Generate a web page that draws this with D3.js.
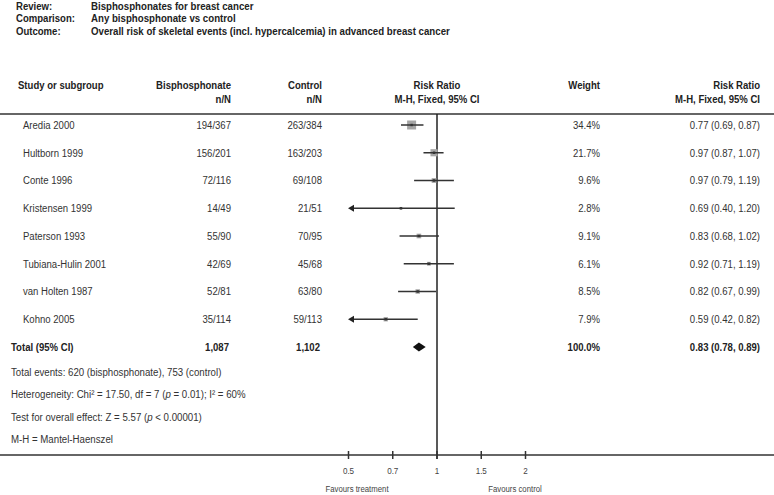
<!DOCTYPE html>
<html><head><meta charset="utf-8">
<script src="https://cdn.jsdelivr.net/npm/d3@7"></script>
<style>
html,body{margin:0;padding:0;background:#fff;}
svg{display:block;font-family:"Liberation Sans",Arial,sans-serif;}
</style></head>
<body><svg id="c" width="774" height="495"></svg>
<script>
const titleLabels = ["Review:", "Comparison:", "Outcome:"];
const titleValues = ["Bisphosphonates for breast cancer", "Any bisphosphonate vs control",
  "Overall risk of skeletal events (incl. hypercalcemia) in advanced breast cancer"];
const studies = ["Aredia 2000","Hultborn 1999","Conte 1996","Kristensen 1999","Paterson 1993","Tubiana-Hulin 2001","van Holten 1987","Kohno 2005"];
const bisEvents = [194,156,72,14,55,42,52,35];
const bisTotal = [367,201,116,49,90,69,81,114];
const ctlEvents = [263,163,69,21,70,45,63,59];
const ctlTotal = [384,203,108,51,95,68,80,113];
const weights = [34.4,21.7,9.6,2.8,9.1,6.1,8.5,7.9];
const rr = [0.77,0.97,0.97,0.69,0.83,0.92,0.82,0.59];
const rrLo = [0.69,0.87,0.79,0.40,0.68,0.71,0.67,0.42];
const rrHi = [0.87,1.07,1.19,1.20,1.02,1.19,0.99,0.82];
const totalBis = "1,087", totalCtl = "1,102", totalWeight = 100.0;
const totalRR = [0.83, 0.78, 0.89];
const tickLabels = ["0.5","0.7","1","1.5","2"];
const footnotes = ["Total events: 620 (bisphosphonate), 753 (control)", "HET", "TEST", "M-H = Mantel-Haenszel"];

const svg = d3.select("#c");
const W = 774;
const txt = "#333", dark = "#222";

// condense text horizontally (reference uses a narrow face) via transform about its anchor x
function narrow(sel, f) {
  sel.each(function(){
    const xx = +this.getAttribute("x") || 0;
    d3.select(this).attr("transform", `translate(${xx},0) scale(${f},1) translate(${-xx},0)`);
  });
  return sel;
}

// title block
titleLabels.forEach((t,i)=>{
  narrow(svg.append("text").attr("x",16).attr("y",10+12.4*i).attr("font-size",11).attr("font-weight","bold").attr("fill",dark).text(t), 0.87);
  narrow(svg.append("text").attr("x",91).attr("y",10+12.4*i).attr("font-size",11).attr("font-weight","bold").attr("fill",dark).text(titleValues[i]), 0.88);
});

// header
const hdr = (x,y,t,anchor)=>narrow(svg.append("text").attr("x",x).attr("y",y).attr("font-size",11).attr("font-weight","bold").attr("fill",dark).attr("text-anchor",anchor).text(t), 0.87);
hdr(18,89,"Study or subgroup","start");
hdr(231,89,"Bisphosphonate","end"); hdr(231,103,"n/N","end");
hdr(322,89,"Control","end"); hdr(322,103,"n/N","end");
hdr(437,89,"Risk Ratio","middle"); hdr(437,103,"M-H, Fixed, 95% CI","middle");
hdr(600,89,"Weight","end");
hdr(760,89,"Risk Ratio","end"); hdr(760,103,"M-H, Fixed, 95% CI","end");

svg.append("line").attr("x1",0).attr("x2",W).attr("y1",114).attr("y2",114).attr("stroke","#333").attr("stroke-width",1.6);
svg.append("line").attr("x1",0).attr("x2",W).attr("y1",455).attr("y2",455).attr("stroke","#333").attr("stroke-width",1.6);

// scales
const x = d3.scaleLog().domain([0.4, 2.5]).range([348, 526]);
const clipMin = 0.43;
const rowY = d3.scaleLinear().domain([0, 1]).range([125, 152.75]);
const sizeS = d3.scaleSqrt().domain([0, 34.4]).range([0, 9]);
const fmt = v => v.toFixed(2);

// vertical line of no effect
svg.append("line").attr("x1",x(1)).attr("x2",x(1)).attr("y1",114).attr("y2",459).attr("stroke",dark).attr("stroke-width",1.5);

studies.forEach((s,i)=>{
  const y = rowY(i);
  const t = (xx,str,anchor)=>narrow(svg.append("text").attr("x",xx).attr("y",y+4).attr("font-size",11).attr("fill",txt).attr("text-anchor",anchor).text(str), 0.87);
  t(23,s,"start");
  t(231,bisEvents[i]+"/"+bisTotal[i],"end");
  t(322,ctlEvents[i]+"/"+ctlTotal[i],"end");
  t(600,weights[i].toFixed(1)+"%","end");
  t(760,`${fmt(rr[i])} (${fmt(rrLo[i])}, ${fmt(rrHi[i])})`,"end");
  const clipped = rrLo[i] < clipMin;
  const xl = clipped ? x(0.4) : x(rrLo[i]);
  const sz = sizeS(weights[i]);
  svg.append("rect").attr("x",x(rr[i])-sz/2).attr("y",y-sz/2).attr("width",sz).attr("height",sz).attr("fill","#a5a5a5");
  svg.append("line").attr("x1",clipped?xl+4:xl).attr("x2",x(rrHi[i])).attr("y1",y).attr("y2",y).attr("stroke","#333").attr("stroke-width",1.5);
  svg.append("rect").attr("x",x(rr[i])-1.2).attr("y",y-1.2).attr("width",2.4).attr("height",2.4).attr("fill","#333");
  if (clipped) {
    svg.append("path").attr("d",`M${xl},${y} L${xl+6},${y-3.5} L${xl+6},${y+3.5} Z`).attr("fill","#222");
  }
});

// total row
const yT = rowY(studies.length);
const tb = (xx,str,anchor)=>narrow(svg.append("text").attr("x",xx).attr("y",yT+4).attr("font-size",11).attr("font-weight","bold").attr("fill",dark).attr("text-anchor",anchor).text(str), 0.87);
tb(11,"Total (95% CI)","start");
tb(229,totalBis,"end");
tb(320,totalCtl,"end");
tb(600,totalWeight.toFixed(1)+"%","end");
tb(760,`${fmt(totalRR[0])} (${fmt(totalRR[1])}, ${fmt(totalRR[2])})`,"end");
svg.append("path").attr("d",`M${x(totalRR[1])},${yT} L${x(totalRR[0])},${yT-4.5} L${x(totalRR[2])},${yT} L${x(totalRR[0])},${yT+4.5} Z`).attr("fill","#111");

// footnotes
const fy = [376, 398, 421, 443];
const fn = (i)=>svg.append("text").attr("x",11).attr("y",fy[i]).attr("font-size",11).attr("fill",txt);
narrow(fn(0).text(footnotes[0]), 0.88);
const h = fn(1);
h.append("tspan").text("Heterogeneity: Chi² = 17.50, df = 7 (");
h.append("tspan").attr("font-style","italic").text("p");
h.append("tspan").text(" = 0.01); I² = 60%");
narrow(h, 0.88);
const tt = fn(2);
tt.append("tspan").text("Test for overall effect: Z = 5.57 (");
tt.append("tspan").attr("font-style","italic").text("p");
tt.append("tspan").text(" < 0.00001)");
narrow(tt, 0.88);
narrow(fn(3).text(footnotes[3]), 0.88);

// axis
const tx = d3.scalePoint().domain(tickLabels).range([348, 525]);
const ax = svg.append("g").attr("transform","translate(0,455)").call(d3.axisBottom(tx).tickSize(4).tickPadding(8));
ax.select(".domain").remove();
ax.selectAll(".tick line").attr("y1",-4).attr("y2",4).attr("stroke","#333").attr("stroke-width",1.5);
ax.selectAll(".tick text").attr("font-size",9.5).attr("fill","#444").attr("font-family",null)
  .attr("transform","scale(0.85,1)");
narrow(svg.append("text").attr("x",357).attr("y",492).attr("font-size",9.5).attr("fill","#444").attr("text-anchor","middle").text("Favours treatment"), 0.82);
narrow(svg.append("text").attr("x",515).attr("y",492).attr("font-size",9.5).attr("fill","#444").attr("text-anchor","middle").text("Favours control"), 0.82);
</script></body></html>
